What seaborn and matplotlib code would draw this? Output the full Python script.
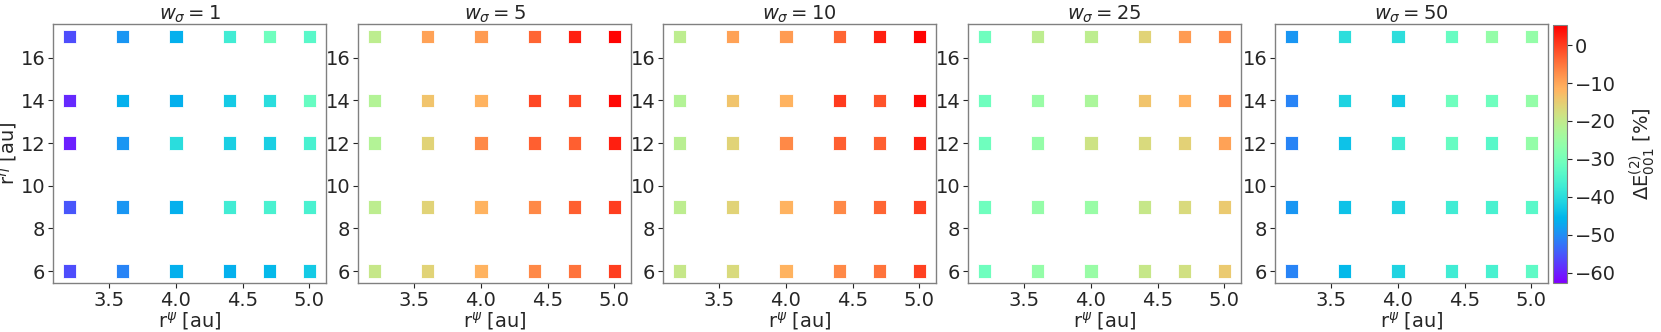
import numpy as np
import pandas as pd
import matplotlib
matplotlib.use('Agg')
import matplotlib.pyplot as plt
import seaborn as sns

# grid of parameters
r_psi = [3.2, 3.6, 4.0, 4.4, 4.7, 5.0]
r_eta = [17, 14, 12, 9, 6]
w_sigma = [1, 5, 10, 25, 50]

# dE in %, rows follow r_eta, columns follow r_psi
dE_w1 = [[-56, -49, -46, -37, -31, -34],
         [-59, -46, -46, -43, -40, -32],
         [-60, -49, -40, -42, -42, -36],
         [-55, -49, -46, -37, -36, -36],
         [-56, -51, -46, -46, -45, -43]]
dE_w5 = [[-20.5, -9.7, -9, -3.5, 2.6, 5],
         [-22, -13.7, -11.7, -1, -1, 4.5],
         [-22, -15.8, -7, -3, -3, 2.6],
         [-20.5, -15.8, -11.7, -7, -3, -0.1],
         [-19.2, -15.8, -11.7, -7, -5, -0.1]]
dE_w10 = [[-20.5, -9.7, -9, -3.5, 2.6, 5],
          [-22, -13.7, -11.7, 0, -2, 4.5],
          [-21, -15.8, -7, -3, -3, 2.6],
          [-20.5, -15.8, -11.7, -7, -3.5, -0.5],
          [-19.2, -17, -11.7, -7, -5, -0.5]]
dE_w25 = [[-31, -20.5, -20.5, -15.8, -9, -7],
          [-31, -25.3, -23, -13.7, -11.7, -7],
          [-31, -26, -18.5, -17, -15.5, -9.7],
          [-31, -26, -25.3, -19.2, -17, -14.5],
          [-31, -26, -25.3, -19.2, -18, -14.5]]
dE_w50 = [[-49, -39.6, -39.6, -32, -26, -26],
          [-51, -41.6, -43, -31, -31, -26],
          [-51, -44, -37, -32, -34, -26],
          [-49, -44, -41.6, -37, -36, -34],
          [-51, -45, -41.6, -37, -36, -33]]
all_dE = [dE_w1, dE_w5, dE_w10, dE_w25, dE_w50]

vmin, vmax = -62.7, 5.3

rows = []
for w, grid in zip(w_sigma, all_dE):
    for i, ye in enumerate(r_eta):
        for j, xp in enumerate(r_psi):
            rows.append([w, xp, ye, grid[i][j]])
df = pd.DataFrame(rows, columns=['w', 'r_psi', 'r_eta', 'dE'])

sns.set_style('white')
plt.rcParams['font.family'] = ['DejaVu Sans']
fs = 14

fig = plt.figure(figsize=(16.61, 3.32), dpi=100)
W, H = 1661, 332
lefts = [53, 358, 663, 968, 1275]
for k, w in enumerate(w_sigma):
    ax = fig.add_axes([lefts[k] / W, 1 - 283 / H, 273 / W, 259 / H])
    sub = df[df['w'] == w]
    sns.scatterplot(data=sub, x='r_psi', y='r_eta', hue='dE', palette='rainbow',
                    hue_norm=(vmin, vmax), marker='s', s=90, edgecolor='white',
                    linewidth=0.6, legend=False, ax=ax)
    ax.set_xlim(3.078, 5.125)
    ax.set_ylim(5.44, 17.58)
    ax.set_xticks([3.5, 4.0, 4.5, 5.0])
    ax.set_yticks([6, 8, 10, 12, 14, 16])
    ax.tick_params(axis='both', labelsize=fs, length=3.5, width=0.8, bottom=True, left=True, pad=2)
    for sp in ax.spines.values():
        sp.set_color('#808080')
        sp.set_linewidth(1.0)
    ax.set_title(r'$w_\sigma = %d$' % w, fontsize=fs, pad=3)
    ax.set_xlabel(r'r$^{\psi}$ [au]', fontsize=fs, labelpad=0)
    if k == 0:
        ax.set_ylabel(r'r$^{\eta}$ [au]', fontsize=fs, labelpad=1)
    else:
        ax.set_ylabel('')

cax = fig.add_axes([1553 / W, 1 - 283 / H, 14 / W, 258 / H])
sm = plt.cm.ScalarMappable(cmap='rainbow', norm=plt.Normalize(vmin, vmax))
cb = fig.colorbar(sm, cax=cax)
cb.set_ticks([0, -10, -20, -30, -40, -50, -60])
cb.ax.tick_params(labelsize=fs, length=3.5, pad=2)
cb.outline.set_edgecolor('#808080')
cb.set_label(r'$\Delta$E$^{(2)}_{001}$ [%]', fontsize=fs, labelpad=8)

fig.savefig('out.png', dpi=100)
